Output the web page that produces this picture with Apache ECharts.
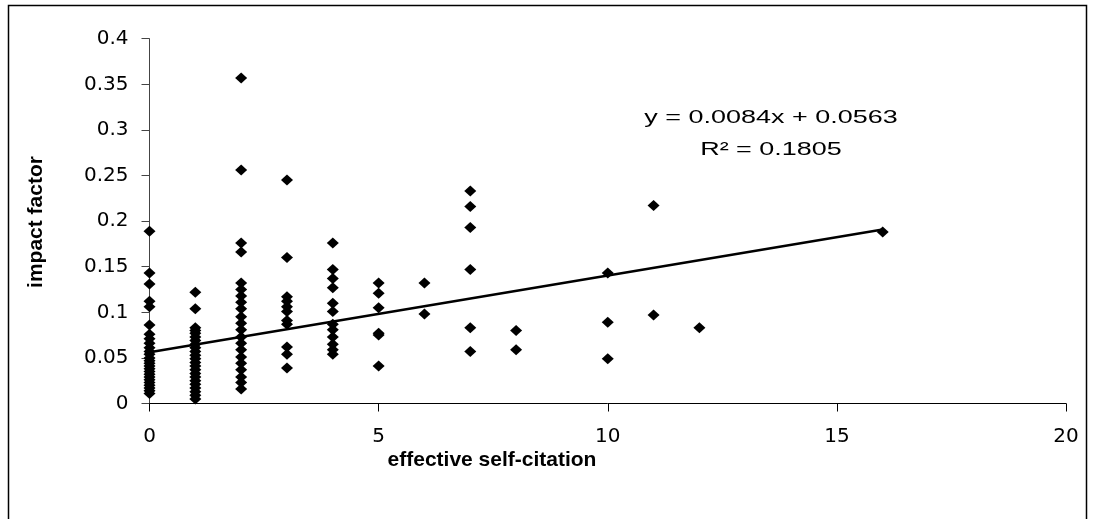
<!DOCTYPE html>
<html><head><meta charset="utf-8">
<script src="https://cdn.jsdelivr.net/npm/echarts@6/dist/echarts.min.js"></script>
<style>html,body{margin:0;padding:0;background:#fff}#c{width:1094px;height:519px}</style>
</head><body><div id="c"></div>
<script>
// ---- data ----
const xTicks = [0, 5, 10, 15, 20];
const yTicks = [0, 0.05, 0.1, 0.15, 0.2, 0.25, 0.3, 0.35, 0.4];
const impact0 = [0.189, 0.143, 0.131, 0.112, 0.106, 0.086, 0.076, 0.071, 0.066, 0.061, 0.057, 0.054, 0.050, 0.047, 0.044, 0.041, 0.038, 0.035, 0.032, 0.029, 0.026, 0.023, 0.020, 0.017, 0.014, 0.011];
const impact1 = [0.122, 0.104, 0.083, 0.080, 0.077, 0.073, 0.069, 0.065, 0.061, 0.057, 0.053, 0.049, 0.045, 0.041, 0.037, 0.033, 0.029, 0.025, 0.021, 0.017, 0.013, 0.009, 0.005];
const impact2 = [0.357, 0.256, 0.176, 0.166, 0.132, 0.125, 0.118, 0.111, 0.104, 0.095, 0.088, 0.081, 0.073, 0.066, 0.059, 0.051, 0.044, 0.037, 0.029, 0.023, 0.016];
const impact3 = [0.245, 0.160, 0.117, 0.112, 0.106, 0.101, 0.091, 0.087, 0.062, 0.054, 0.039];
const impact4 = [0.176, 0.147, 0.137, 0.127, 0.110, 0.101, 0.087, 0.081, 0.073, 0.065, 0.059, 0.054];
const impact5 = [0.132, 0.121, 0.105, 0.077, 0.075, 0.041];
const impact6 = [0.132, 0.098];
const impact7 = [0.233, 0.216, 0.193, 0.147, 0.083, 0.057];
const impact8 = [0.080, 0.059];
const impact10 = [0.143, 0.089, 0.049];
const impact11 = [0.217, 0.097];
const impact12 = [0.083];
const impact16 = [0.188];
const selfCitation = [0, 1, 2, 3, 4, 5, 6, 7, 8, 10, 11, 12, 16];
const impactByCitation = [impact0, impact1, impact2, impact3, impact4, impact5, impact6, impact7, impact8, impact10, impact11, impact12, impact16];
// trendline as printed: y = 0.0084x + 0.0563, drawn from x=0 to x=16
const trendLine = [[0, 0.0563], [16, 0.1907]];
const equationText = 'y = 0.0084x + 0.0563';
const r2Text = 'R\u00B2 = 0.1805';
const xTitle = 'effective self-citation';
const yTitle = 'impact factor';

const points = [];
selfCitation.forEach((c, i) => impactByCitation[i].forEach(v => points.push([c, v])));

const chart = echarts.init(document.getElementById('c'));
chart.setOption({
  animation: false,
  backgroundColor: '#fff',
  grid: { left: 149.5, top: 38.7, right: 28, bottom: 115.5, containLabel: false, outerBoundsMode: 'none' },
  xAxis: {
    type: 'value', min: 0, max: 20, interval: 5,
    axisLine: { show: true, onZero: false, lineStyle: { color: '#000', width: 1 } },
    axisTick: { show: true, inside: false, length: 8, lineStyle: { color: '#000' } },
    splitLine: { show: false },
    axisLabel: { color: '#000', fontFamily: 'DejaVu Sans', fontSize: 20, margin: 23 }
  },
  yAxis: {
    type: 'value', min: 0, max: 0.4, interval: 0.05,
    axisLine: { show: true, onZero: false, lineStyle: { color: '#444', width: 1 } },
    axisTick: { show: true, inside: false, length: 8, lineStyle: { color: '#444' } },
    splitLine: { show: false },
    axisLabel: { color: '#000', fontFamily: 'DejaVu Sans', fontSize: 20, margin: 21 }
  },
  series: [
    {
      type: 'scatter', data: points, symbol: 'diamond', symbolSize: [12, 11],
      itemStyle: { color: '#000', opacity: 1 }, z: 2
    },
    {
      type: 'line', data: trendLine, symbol: 'none',
      lineStyle: { color: '#000', width: 2.5 }, z: 3
    }
  ],
  graphic: [
    { type: 'polyline', shape: { points: [[8.5, 519], [8.5, 5.5], [1086.5, 5.5], [1086.5, 519]] },
      style: { stroke: '#000', lineWidth: 1.5, fill: null }, silent: true },
    { type: 'text', x: 771, y: 118, scaleX: 1.45,
      style: { text: equationText, align: 'center', verticalAlign: 'middle', fontFamily: 'Liberation Sans', fontSize: 18.6, fill: '#000' } },
    { type: 'text', x: 771, y: 150, scaleX: 1.45,
      style: { text: r2Text, align: 'center', verticalAlign: 'middle', fontFamily: 'Liberation Sans', fontSize: 18.6, fill: '#000' } },
    { type: 'text', x: 492, y: 460,
      style: { text: xTitle, align: 'center', verticalAlign: 'middle', fontFamily: 'Liberation Sans', fontWeight: 'bold', fontSize: 21, fill: '#000' } },
    { type: 'text', x: 36.5, y: 222, rotation: Math.PI / 2,
      style: { text: yTitle, align: 'center', verticalAlign: 'middle', fontFamily: 'Liberation Sans', fontWeight: 'bold', fontSize: 21, fill: '#000' } }
  ]
});
</script>
</body></html>
